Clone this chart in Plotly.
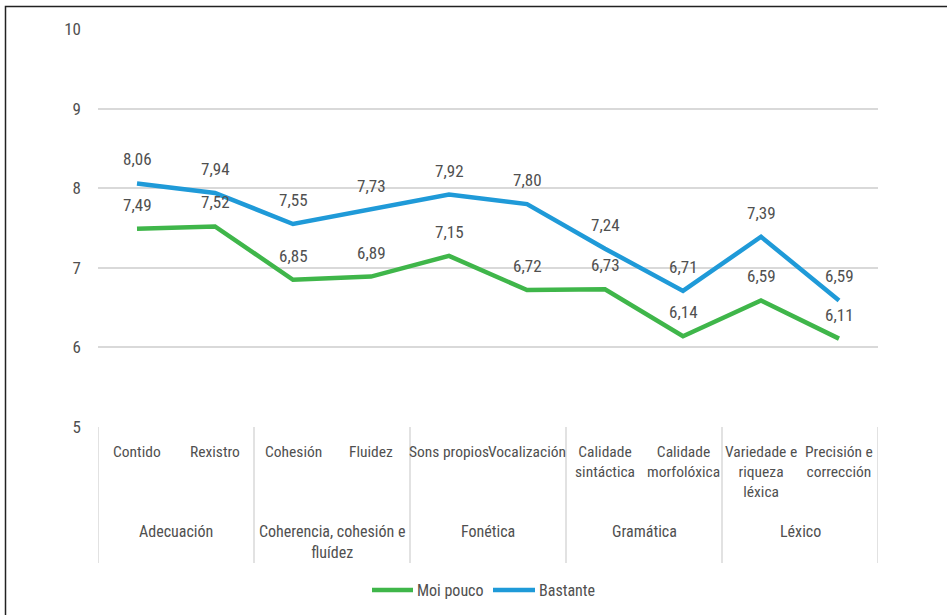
import plotly.graph_objects as go

# Subcategories (x axis), their group and the two series
subcats = ["Contido", "Rexistro", "Cohesión", "Fluidez", "Sons propios",
           "Vocalización", "Calidade<br>sintáctica", "Calidade<br>morfolóxica",
           "Variedade e<br>riqueza<br>léxica", "Precisión e<br>corrección"]
groups = ["Adecuación", "Coherencia, cohesión e<br>fluídez", "Fonética",
          "Gramática", "Léxico"]
group_sizes = [2, 2, 2, 2, 2]

series_names = ["Moi pouco", "Bastante"]
moi_pouco = [7.49, 7.52, 6.85, 6.89, 7.15, 6.72, 6.73, 6.14, 6.59, 6.11]
bastante = [8.06, 7.94, 7.55, 7.73, 7.92, 7.80, 7.24, 6.71, 7.39, 6.59]

y_ticks = [5, 6, 7, 8, 9, 10]

GREEN = "#3fb64a"
BLUE = "#1f9ad8"
TEXT = "#505050"
GRID = "#d9d9d9"
FONT = "Roboto Condensed, DejaVu Sans Condensed, Liberation Sans Narrow, Roboto, sans-serif"


def font(size):
    return dict(size=size, color=TEXT, family=FONT)


W, H = 947, 615
L, R, T, B = 98, 69, 29, 188
pw, ph = W - L - R, H - T - B


def px_x(x):
    return (x - L) / pw


def px_y(y):
    return (H - B - y) / ph


fig = go.Figure()
for name, vals, col in zip(series_names, (moi_pouco, bastante), (GREEN, BLUE)):
    fig.add_trace(go.Scatter(x=subcats, y=vals, mode="lines", name=name,
                             line=dict(color=col, width=4.5), showlegend=False))

annotations = []
shapes = []

# value labels above each point
for vals in (moi_pouco, bastante):
    for c, v in zip(subcats, vals):
        annotations.append(dict(x=c, y=v, xref="x", yref="y",
                                text=f"{v:.2f}".replace(".", ","),
                                showarrow=False, yshift=24, font=font(17)))

# subcategory labels under the plot
for c in subcats:
    annotations.append(dict(x=c, y=px_y(440.5), xref="x", yref="paper",
                            text=c, showarrow=False, yanchor="top",
                            font=font(15.5)))

# group labels and dividers
start = 0
bounds = [-0.5]
for g, n in zip(groups, group_sizes):
    centre = start + (n - 1) / 2
    annotations.append(dict(x=centre, y=px_y(519.5), xref="x", yref="paper",
                            text=g, showarrow=False, yanchor="top",
                            font=font(16)))
    start += n
    bounds.append(start - 0.5)

for b in bounds:
    shapes.append(dict(type="line", xref="x", yref="paper", x0=b, x1=b,
                       y0=0, y1=px_y(563), line=dict(color=GRID, width=1.5)))

# legend drawn below the category box
legend_items = [(series_names[0], GREEN, 372, 413), (series_names[1], BLUE, 493, 535)]
for name, col, x0, x1 in legend_items:
    shapes.append(dict(type="line", xref="paper", yref="paper",
                       x0=px_x(x0), x1=px_x(x1), y0=px_y(590), y1=px_y(590),
                       line=dict(color=col, width=4.5)))
    annotations.append(dict(x=px_x(x1 + 2), y=px_y(590), xref="paper", yref="paper",
                            text=name, showarrow=False, xanchor="left",
                            yanchor="middle", font=font(16)))

# outer frame (left and top edges)
shapes.append(dict(type="path", xref="paper", yref="paper",
                   path=f"M {px_x(5.5)} {px_y(615)} L {px_x(5.5)} {px_y(6.5)} L {px_x(947)} {px_y(6.5)}",
                   line=dict(color="#222222", width=1.5)))

fig.update_layout(
    width=W, height=H,
    margin=dict(l=L, r=R, t=T, b=B),
    paper_bgcolor="white", plot_bgcolor="white",
    font=font(16),
    separators=", ",
    showlegend=False,
    annotations=annotations,
    shapes=shapes,
)
fig.update_xaxes(type="category", range=[-0.5, len(subcats) - 0.5],
                 showticklabels=False, showgrid=False, zeroline=False,
                 showline=False, ticks="")
fig.update_yaxes(range=[5, 10], tickvals=y_ticks, showgrid=True,
                 gridcolor=GRID, gridwidth=1.5, zeroline=False,
                 showline=False, ticks="", ticklabelstandoff=16,
                 tickfont=font(17))

fig.write_html("out.html")
